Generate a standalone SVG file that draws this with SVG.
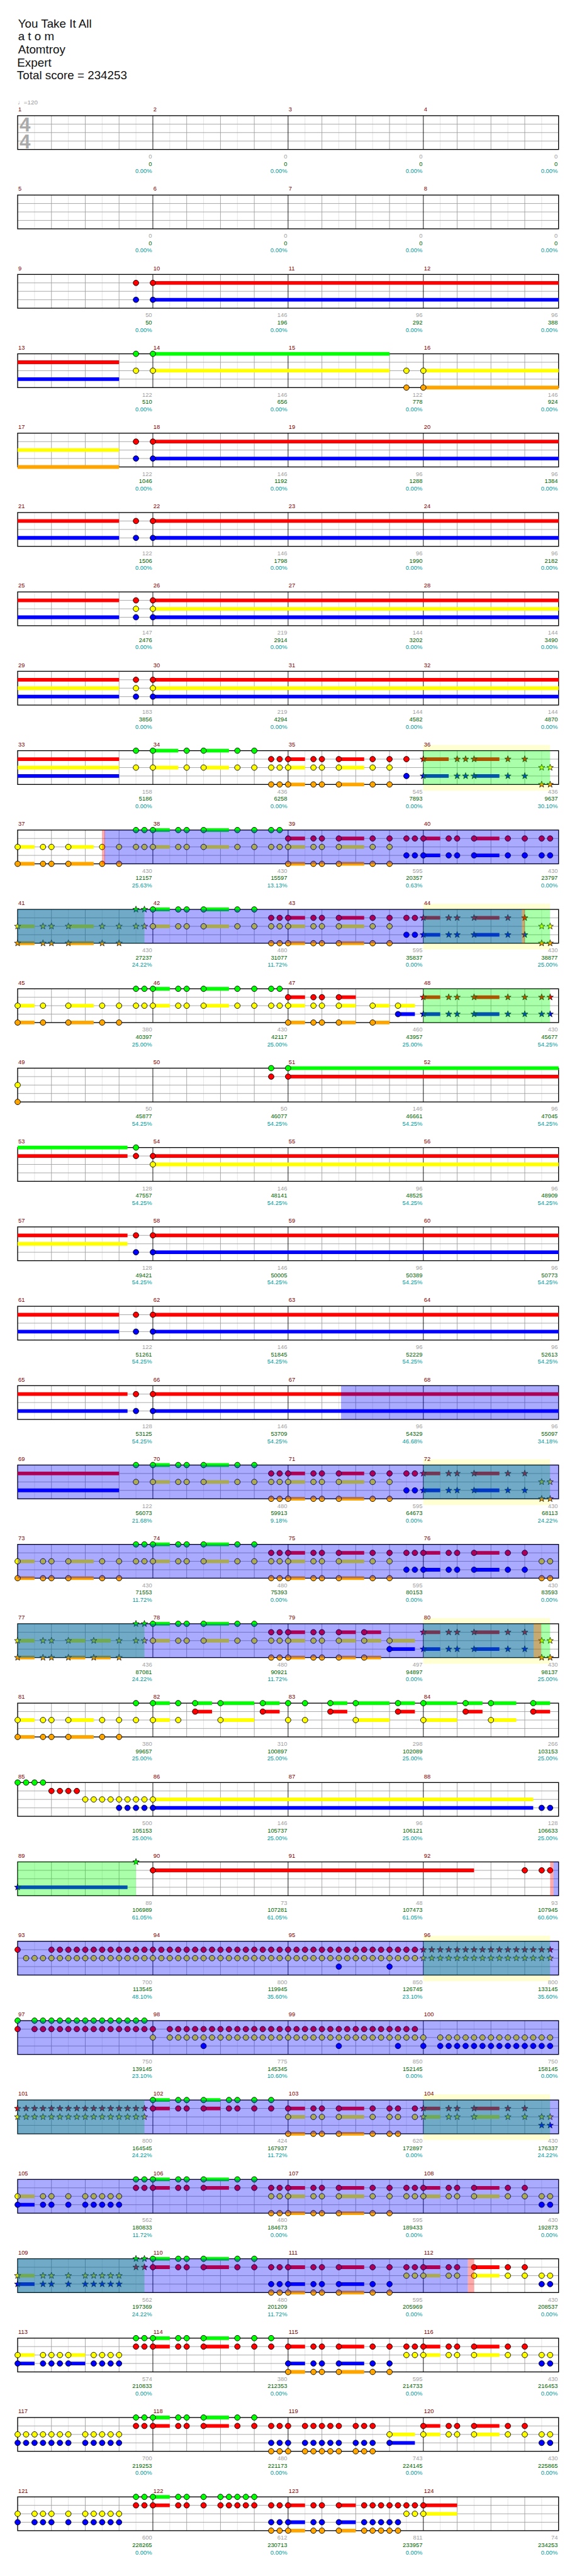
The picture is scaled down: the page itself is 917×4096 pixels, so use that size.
<svg xmlns="http://www.w3.org/2000/svg" width="917" height="4096" viewBox="0 0 917 4096">
<style>
text{font-family:"Liberation Sans","DejaVu Sans",sans-serif}
.ti{font-size:21px;fill:#111}
.tp{font-size:11px;fill:#999}
.ts{font-size:35px;fill:#aaa;text-anchor:middle;font-weight:bold}
.mn{font-size:10.5px;fill:#800000}
.a,.b,.c{font-size:10.5px;text-anchor:end}
.a{fill:#a0a0a0}.b{fill:#006400}.c{fill:#00999a}
path{fill:none}
.uG,.uR,.uY,.uB,.uO{stroke-width:6.5}
.uG{stroke:#0f0}.uR{stroke:#f00}.uY{stroke:#ff0}.uB{stroke:#00f}.uO{stroke:#ffa500}
.nG{marker-start:url(#mCG);marker-mid:url(#mCG);marker-end:url(#mCG)}
.nR{marker-start:url(#mCR);marker-mid:url(#mCR);marker-end:url(#mCR)}
.nY{marker-start:url(#mCY);marker-mid:url(#mCY);marker-end:url(#mCY)}
.nB{marker-start:url(#mCB);marker-mid:url(#mCB);marker-end:url(#mCB)}
.nO{marker-start:url(#mCO);marker-mid:url(#mCO);marker-end:url(#mCO)}
.sG{marker-start:url(#mSG);marker-mid:url(#mSG);marker-end:url(#mSG)}
.sR{marker-start:url(#mSR);marker-mid:url(#mSR);marker-end:url(#mSR)}
.sY{marker-start:url(#mSY);marker-mid:url(#mSY);marker-end:url(#mSY)}
.sB{marker-start:url(#mSB);marker-mid:url(#mSB);marker-end:url(#mSB)}
.sO{marker-start:url(#mSO);marker-mid:url(#mSO);marker-end:url(#mSO)}
.ob{fill:#00f;fill-opacity:.333}
.og{fill:#0f0;fill-opacity:.333}
.orb{fill:#f00;fill-opacity:.333}
.bd{fill:#ffffd2}
</style>
<defs>
<circle id="CG" r="4.9" fill="#0f0" stroke="#000"/>
<circle id="CR" r="4.9" fill="#f00" stroke="#000"/>
<circle id="CY" r="4.9" fill="#ff0" stroke="#000"/>
<circle id="CB" r="4.9" fill="#00f" stroke="#000"/>
<circle id="CO" r="4.9" fill="#ffa500" stroke="#000"/>
<polygon id="st" points="0,-6 1.41,-1.94 5.71,-1.85 2.28,0.74 3.53,4.85 0,2.4 -3.53,4.85 -2.28,0.74 -5.71,-1.85 -1.41,-1.94"/>
<use id="SG" href="#st" fill="#0f0" stroke="#000" stroke-width="0.8"/>
<use id="SR" href="#st" fill="#f00" stroke="#000" stroke-width="0.8"/>
<use id="SY" href="#st" fill="#ff0" stroke="#000" stroke-width="0.8"/>
<use id="SB" href="#st" fill="#00f" stroke="#000" stroke-width="0.8"/>
<use id="SO" href="#st" fill="#ffa500" stroke="#000" stroke-width="0.8"/>
<marker id="mCG" viewBox="-8 -8 16 16" markerWidth="16" markerHeight="16" markerUnits="userSpaceOnUse" overflow="visible"><use href="#CG"/></marker>
<marker id="mCR" viewBox="-8 -8 16 16" markerWidth="16" markerHeight="16" markerUnits="userSpaceOnUse" overflow="visible"><use href="#CR"/></marker>
<marker id="mCY" viewBox="-8 -8 16 16" markerWidth="16" markerHeight="16" markerUnits="userSpaceOnUse" overflow="visible"><use href="#CY"/></marker>
<marker id="mCB" viewBox="-8 -8 16 16" markerWidth="16" markerHeight="16" markerUnits="userSpaceOnUse" overflow="visible"><use href="#CB"/></marker>
<marker id="mCO" viewBox="-8 -8 16 16" markerWidth="16" markerHeight="16" markerUnits="userSpaceOnUse" overflow="visible"><use href="#CO"/></marker>
<marker id="mSG" viewBox="-8 -8 16 16" markerWidth="16" markerHeight="16" markerUnits="userSpaceOnUse" overflow="visible"><use href="#SG"/></marker>
<marker id="mSR" viewBox="-8 -8 16 16" markerWidth="16" markerHeight="16" markerUnits="userSpaceOnUse" overflow="visible"><use href="#SR"/></marker>
<marker id="mSY" viewBox="-8 -8 16 16" markerWidth="16" markerHeight="16" markerUnits="userSpaceOnUse" overflow="visible"><use href="#SY"/></marker>
<marker id="mSB" viewBox="-8 -8 16 16" markerWidth="16" markerHeight="16" markerUnits="userSpaceOnUse" overflow="visible"><use href="#SB"/></marker>
<marker id="mSO" viewBox="-8 -8 16 16" markerWidth="16" markerHeight="16" markerUnits="userSpaceOnUse" overflow="visible"><use href="#SO"/></marker>
<g id="staff">
<rect width="960" height="60" fill="#fff"/>
<path stroke="#e2e2e2" d="M30 0V60M90 0V60M150 0V60M210 0V60M270 0V60M330 0V60M390 0V60M450 0V60M510 0V60M570 0V60M630 0V60M690 0V60M750 0V60M810 0V60M870 0V60M930 0V60"/>
<path stroke="#a0a0a0" d="M60 0V60M120 0V60M180 0V60M300 0V60M360 0V60M420 0V60M540 0V60M600 0V60M660 0V60M780 0V60M840 0V60M900 0V60M0 15H960M0 30H960M0 45H960"/>
<path stroke="#000" d="M240 0V60M480 0V60M720 0V60"/>
<rect width="960" height="60" fill="none" stroke="#000" stroke-width="1.5"/>
</g>
</defs>
<rect width="917" height="4096" fill="#fff"/>
<g transform="scale(0.8955,0.8951)">
<g id="header">
<text class="ti" x="32" y="49.3">You Take It All</text>
<text class="ti" x="32" y="71.7">a t o m</text>
<text class="ti" x="32" y="95">Atomtroy</text>
<text class="ti" x="30.5" y="118.3">Expert</text>
<text class="ti" x="30" y="141">Total score = 234253</text>
</g>

<g id="row-m1" transform="translate(31.3,205.5)">
<use href="#staff"/>
<text class="tp" x="0" y="-20.5">♩=120</text>
<text class="ts" x="13.2" y="27.8">4</text><text class="ts" x="13.2" y="57.8">4</text>
<g class="mn" transform="translate(1,-7.5)"><text>1</text><text x="240">2</text><text x="480">3</text><text x="720">4</text></g>
<g class="a" transform="translate(238.5,76)"><text>0</text><text x="240">0</text><text x="480">0</text><text x="720">0</text></g>
<g class="b" transform="translate(238.5,89)"><text>0</text><text x="240">0</text><text x="480">0</text><text x="720">0</text></g>
<g class="c" transform="translate(238.5,102)"><text>0.00%</text><text x="240">0.00%</text><text x="480">0.00%</text><text x="720">0.00%</text></g>
</g>

<g id="row-m5" transform="translate(31.3,346.5)">
<use href="#staff"/>
<g class="mn" transform="translate(1,-7.5)"><text>5</text><text x="240">6</text><text x="480">7</text><text x="720">8</text></g>
<g class="a" transform="translate(238.5,76)"><text>0</text><text x="240">0</text><text x="480">0</text><text x="720">0</text></g>
<g class="b" transform="translate(238.5,89)"><text>0</text><text x="240">0</text><text x="480">0</text><text x="720">0</text></g>
<g class="c" transform="translate(238.5,102)"><text>0.00%</text><text x="240">0.00%</text><text x="480">0.00%</text><text x="720">0.00%</text></g>
</g>

<g id="row-m9" transform="translate(31.3,487.5)">
<use href="#staff"/>
<path class="uR" d="M240 15H960"/><path class="uB" d="M240 45H960"/>
<path class="nR" d="M210 15H240"/><path class="nB" d="M210 45H240"/>
<g class="mn" transform="translate(1,-7.5)"><text>9</text><text x="240">10</text><text x="480">11</text><text x="720">12</text></g>
<g class="a" transform="translate(238.5,76)"><text>50</text><text x="240">146</text><text x="480">96</text><text x="720">96</text></g>
<g class="b" transform="translate(238.5,89)"><text>50</text><text x="240">196</text><text x="480">292</text><text x="720">388</text></g>
<g class="c" transform="translate(238.5,102)"><text>0.00%</text><text x="240">0.00%</text><text x="480">0.00%</text><text x="720">0.00%</text></g>
</g>

<g id="row-m13" transform="translate(31.3,628.5)">
<use href="#staff"/>
<path class="uR" d="M0 15H180"/><path class="uB" d="M0 45H180"/><path class="uG" d="M240 0H660"/><path class="uY" d="M240 30H660M720 30H960"/><path class="uO" d="M720 60H960"/>
<path class="nG" d="M210 0H240"/><path class="nY" d="M210 30H240H690H720"/><path class="nO" d="M690 60H720"/>
<g class="mn" transform="translate(1,-7.5)"><text>13</text><text x="240">14</text><text x="480">15</text><text x="720">16</text></g>
<g class="a" transform="translate(238.5,76)"><text>122</text><text x="240">146</text><text x="480">122</text><text x="720">146</text></g>
<g class="b" transform="translate(238.5,89)"><text>510</text><text x="240">656</text><text x="480">778</text><text x="720">924</text></g>
<g class="c" transform="translate(238.5,102)"><text>0.00%</text><text x="240">0.00%</text><text x="480">0.00%</text><text x="720">0.00%</text></g>
</g>

<g id="row-m17" transform="translate(31.3,769.5)">
<use href="#staff"/>
<path class="uY" d="M0 30H180"/><path class="uO" d="M0 60H180"/><path class="uR" d="M240 15H960"/><path class="uB" d="M240 45H960"/>
<path class="nR" d="M210 15H240"/><path class="nB" d="M210 45H240"/>
<g class="mn" transform="translate(1,-7.5)"><text>17</text><text x="240">18</text><text x="480">19</text><text x="720">20</text></g>
<g class="a" transform="translate(238.5,76)"><text>122</text><text x="240">146</text><text x="480">96</text><text x="720">96</text></g>
<g class="b" transform="translate(238.5,89)"><text>1046</text><text x="240">1192</text><text x="480">1288</text><text x="720">1384</text></g>
<g class="c" transform="translate(238.5,102)"><text>0.00%</text><text x="240">0.00%</text><text x="480">0.00%</text><text x="720">0.00%</text></g>
</g>

<g id="row-m21" transform="translate(31.3,910.5)">
<use href="#staff"/>
<path class="uR" d="M0 15H180M240 15H960"/><path class="uB" d="M0 45H180M240 45H960"/>
<path class="nR" d="M210 15H240"/><path class="nB" d="M210 45H240"/>
<g class="mn" transform="translate(1,-7.5)"><text>21</text><text x="240">22</text><text x="480">23</text><text x="720">24</text></g>
<g class="a" transform="translate(238.5,76)"><text>122</text><text x="240">146</text><text x="480">96</text><text x="720">96</text></g>
<g class="b" transform="translate(238.5,89)"><text>1506</text><text x="240">1798</text><text x="480">1990</text><text x="720">2182</text></g>
<g class="c" transform="translate(238.5,102)"><text>0.00%</text><text x="240">0.00%</text><text x="480">0.00%</text><text x="720">0.00%</text></g>
</g>

<g id="row-m25" transform="translate(31.3,1051.5)">
<use href="#staff"/>
<path class="uR" d="M0 15H180M240 15H960"/><path class="uY" d="M240 30H960"/><path class="uB" d="M0 45H180M240 45H960"/>
<path class="nR" d="M210 15H240"/><path class="nY" d="M210 30H240"/><path class="nB" d="M210 45H240"/>
<g class="mn" transform="translate(1,-7.5)"><text>25</text><text x="240">26</text><text x="480">27</text><text x="720">28</text></g>
<g class="a" transform="translate(238.5,76)"><text>147</text><text x="240">219</text><text x="480">144</text><text x="720">144</text></g>
<g class="b" transform="translate(238.5,89)"><text>2476</text><text x="240">2914</text><text x="480">3202</text><text x="720">3490</text></g>
<g class="c" transform="translate(238.5,102)"><text>0.00%</text><text x="240">0.00%</text><text x="480">0.00%</text><text x="720">0.00%</text></g>
</g>

<g id="row-m29" transform="translate(31.3,1192.5)">
<use href="#staff"/>
<path class="uR" d="M0 15H180M240 15H960"/><path class="uY" d="M0 30H180M240 30H960"/><path class="uB" d="M0 45H180M240 45H960"/>
<path class="nR" d="M210 15H240"/><path class="nY" d="M210 30H240"/><path class="nB" d="M210 45H240"/>
<g class="mn" transform="translate(1,-7.5)"><text>29</text><text x="240">30</text><text x="480">31</text><text x="720">32</text></g>
<g class="a" transform="translate(238.5,76)"><text>183</text><text x="240">219</text><text x="480">144</text><text x="720">144</text></g>
<g class="b" transform="translate(238.5,89)"><text>3856</text><text x="240">4294</text><text x="480">4582</text><text x="720">4870</text></g>
<g class="c" transform="translate(238.5,102)"><text>0.00%</text><text x="240">0.00%</text><text x="480">0.00%</text><text x="720">0.00%</text></g>
</g>

<g id="row-m33" transform="translate(31.3,1333.5)">
<rect class="bd" x="720" y="-10" width="225" height="81"/>
<use href="#staff"/>
<path class="uR" d="M0 15H180M480 15H510M570 15H615M720 15H765M810 15H855"/>
<path class="uY" d="M0 30H180M240 30H285M330 30H375M480 30H510M570 30H615"/>
<path class="uB" d="M0 45H180M720 45H765M810 45H855"/>
<path class="uG" d="M240 0H285M330 0H375"/>
<path class="uO" d="M480 60H510M570 60H615"/>
<path class="nG" d="M210 0H240H300H330H390H420"/>
<path class="nY" d="M210 30H240H300H330H390H420H450H465H480H525H540H570H630H660"/>
<path class="nR" d="M450 15H465H480H525H540H570H630H660H690"/>
<path class="nO" d="M450 60H465H480H525H540H570H630H660"/>
<use href="#CB" x="690" y="45"/>
<path class="sR" d="M720 15H780H795H810H870H900"/>
<path class="sB" d="M720 45H780H795H810H870H900"/>
<path class="sY" d="M930 30H945"/><path class="sO" d="M930 60H945"/>
<rect class="og" x="720" width="225" height="60"/>
<g class="mn" transform="translate(1,-7.5)"><text>33</text><text x="240">34</text><text x="480">35</text><text x="720">36</text></g>
<g class="a" transform="translate(238.5,76)"><text>158</text><text x="240">436</text><text x="480">545</text><text x="720">436</text></g>
<g class="b" transform="translate(238.5,89)"><text>5186</text><text x="240">6258</text><text x="480">7893</text><text x="720">9637</text></g>
<g class="c" transform="translate(238.5,102)"><text>0.00%</text><text x="240">0.00%</text><text x="480">0.00%</text><text x="720">30.10%</text></g>
</g>

<g id="row-m37" transform="translate(31.3,1474.5)">
<use href="#staff"/>
<path class="uY" d="M0 30H30M90 30H135M240 30H270M330 30H375M480 30H510M570 30H615"/>
<path class="uO" d="M0 60H30M90 60H135M480 60H510M570 60H615"/>
<path class="uG" d="M240 0H270M330 0H375"/>
<path class="uR" d="M480 15H510M570 15H615M720 15H750M810 15H855"/>
<path class="uB" d="M720 45H750M810 45H855"/>
<path class="nY" d="M0 30H45H60H90H150H180H210H225H240H285H300H330H390H420H450H465H480H525H540H570H630H660"/>
<path class="nO" d="M0 60H45H60H90H150H180H480H525H540H570H630H660"/>
<path class="nG" d="M210 0H225H240H285H300H330H390H420H450H465"/>
<path class="nR" d="M480 15H525H540H570H630H660H690H705H720H765H780H810H870H900H930H945"/>
<path class="nB" d="M690 45H705H720H765H780H810H870H900H930H945"/>
<rect class="ob" x="154" width="806" height="60"/>
<rect class="orb" x="150" width="5" height="60"/>
<g class="mn" transform="translate(1,-7.5)"><text>37</text><text x="240">38</text><text x="480">39</text><text x="720">40</text></g>
<g class="a" transform="translate(238.5,76)"><text>430</text><text x="240">430</text><text x="480">595</text><text x="720">430</text></g>
<g class="b" transform="translate(238.5,89)"><text>12157</text><text x="240">15597</text><text x="480">20357</text><text x="720">23797</text></g>
<g class="c" transform="translate(238.5,102)"><text>25.63%</text><text x="240">13.13%</text><text x="480">0.63%</text><text x="720">0.00%</text></g>
</g>

<g id="row-m41" transform="translate(31.3,1615.5)">
<rect class="bd" x="720" y="-10" width="225" height="81"/>
<use href="#staff"/>
<path class="uY" d="M0 30H30M90 30H135M240 30H270M330 30H375M480 30H510M570 30H615"/>
<path class="uO" d="M0 60H30M90 60H135M480 60H510M570 60H615"/>
<path class="uG" d="M240 0H270M330 0H375"/>
<path class="uR" d="M480 15H510M570 15H615M720 15H750M810 15H855"/>
<path class="uB" d="M720 45H750M810 45H855"/>
<path class="nY" d="M240 30H285H300H330H390H420H450H465H480H525H540H570H630H660"/>
<path class="nO" d="M450 60H465H480H525H540H570H630H660"/>
<path class="nG" d="M240 0H285H300H330H390H420"/>
<path class="nR" d="M450 15H465H480H525H540H570H630H660H690H705"/>
<path class="nB" d="M690 45H705"/>
<path class="sY" d="M0 30H45H60H90H150H180H210H225M930 30H945"/>
<path class="sO" d="M0 60H45H60H90H150H180M930 60H945"/>
<path class="sG" d="M210 0H225"/>
<path class="sR" d="M720 15H765H780H810H870H900"/>
<path class="sB" d="M720 45H765H780H810H870H900"/>
<rect class="og" x="0" width="225" height="60"/>
<rect class="og" x="720" width="225" height="60"/>
<rect class="ob" x="0" width="895" height="60"/>
<rect class="orb" x="895" width="5" height="60"/>
<g class="mn" transform="translate(1,-7.5)"><text>41</text><text x="240">42</text><text x="480">43</text><text x="720">44</text></g>
<g class="a" transform="translate(238.5,76)"><text>430</text><text x="240">480</text><text x="480">595</text><text x="720">430</text></g>
<g class="b" transform="translate(238.5,89)"><text>27237</text><text x="240">31077</text><text x="480">35837</text><text x="720">38877</text></g>
<g class="c" transform="translate(238.5,102)"><text>24.22%</text><text x="240">11.72%</text><text x="480">0.00%</text><text x="720">25.00%</text></g>
</g>

<g id="row-m45" transform="translate(31.3,1756.5)">
<use href="#staff"/>
<path class="uY" d="M0 30H30M90 30H135M240 30H270M330 30H375M480 30H510M570 30H600M630 30H660M675 30H705"/>
<path class="uO" d="M0 60H30M90 60H135M480 60H510M570 60H600M630 60H660"/>
<path class="uG" d="M240 0H270M330 0H375"/>
<path class="uR" d="M480 15H510M570 15H600M720 15H750M810 15H855"/>
<path class="uB" d="M675 45H705M720 45H750M810 45H855"/>
<path class="nY" d="M0 30H45H90H150H180H210H225H240H285H300H330H390H420H450H465H480H525H540H570H630H675"/>
<path class="nO" d="M0 60H45H90H150H180H480H525H540H570H630"/>
<path class="nG" d="M210 0H225H240H285H300H330H390H420H450H465"/>
<path class="nR" d="M480 15H525H540H570"/>
<use href="#CB" x="675" y="45"/>
<path class="sR" d="M720 15H765H780H810H870H900H930H945"/>
<path class="sB" d="M720 45H765H780H810H870H900H930H945"/>
<rect class="og" x="720" width="225" height="60"/>
<g class="mn" transform="translate(1,-7.5)"><text>45</text><text x="240">46</text><text x="480">47</text><text x="720">48</text></g>
<g class="a" transform="translate(238.5,76)"><text>380</text><text x="240">430</text><text x="480">460</text><text x="720">430</text></g>
<g class="b" transform="translate(238.5,89)"><text>40397</text><text x="240">42117</text><text x="480">43957</text><text x="720">45677</text></g>
<g class="c" transform="translate(238.5,102)"><text>25.00%</text><text x="240">25.00%</text><text x="480">25.00%</text><text x="720">54.25%</text></g>
</g>

<g id="row-m49" transform="translate(31.3,1897.5)">
<use href="#staff"/>
<path class="uG" d="M480 0H960"/><path class="uR" d="M480 15H960"/>
<path class="nG" d="M450 0H480"/><path class="nR" d="M450 15H480"/>
<use href="#CY" x="0" y="30"/><use href="#CO" x="0" y="60"/>
<g class="mn" transform="translate(1,-7.5)"><text>49</text><text x="240">50</text><text x="480">51</text><text x="720">52</text></g>
<g class="a" transform="translate(238.5,76)"><text>50</text><text x="240">50</text><text x="480">146</text><text x="720">96</text></g>
<g class="b" transform="translate(238.5,89)"><text>45877</text><text x="240">46077</text><text x="480">46661</text><text x="720">47045</text></g>
<g class="c" transform="translate(238.5,102)"><text>54.25%</text><text x="240">54.25%</text><text x="480">54.25%</text><text x="720">54.25%</text></g>
</g>

<g id="row-m53" transform="translate(31.3,2038.5)">
<use href="#staff"/>
<path class="uG" d="M0 0H195"/><path class="uR" d="M0 15H195M240 15H960"/><path class="uY" d="M240 30H960"/>
<use href="#CG" x="210" y="0"/><path class="nR" d="M210 15H240"/><use href="#CY" x="240" y="30"/>
<g class="mn" transform="translate(1,-7.5)"><text>53</text><text x="240">54</text><text x="480">55</text><text x="720">56</text></g>
<g class="a" transform="translate(238.5,76)"><text>128</text><text x="240">146</text><text x="480">96</text><text x="720">96</text></g>
<g class="b" transform="translate(238.5,89)"><text>47557</text><text x="240">48141</text><text x="480">48525</text><text x="720">48909</text></g>
<g class="c" transform="translate(238.5,102)"><text>54.25%</text><text x="240">54.25%</text><text x="480">54.25%</text><text x="720">54.25%</text></g>
</g>

<g id="row-m57" transform="translate(31.3,2179.5)">
<use href="#staff"/>
<path class="uR" d="M0 15H195M240 15H960"/><path class="uY" d="M0 30H195"/><path class="uB" d="M240 45H960"/>
<path class="nR" d="M210 15H240"/><path class="nB" d="M210 45H240"/>
<g class="mn" transform="translate(1,-7.5)"><text>57</text><text x="240">58</text><text x="480">59</text><text x="720">60</text></g>
<g class="a" transform="translate(238.5,76)"><text>128</text><text x="240">146</text><text x="480">96</text><text x="720">96</text></g>
<g class="b" transform="translate(238.5,89)"><text>49421</text><text x="240">50005</text><text x="480">50389</text><text x="720">50773</text></g>
<g class="c" transform="translate(238.5,102)"><text>54.25%</text><text x="240">54.25%</text><text x="480">54.25%</text><text x="720">54.25%</text></g>
</g>

<g id="row-m61" transform="translate(31.3,2320.5)">
<use href="#staff"/>
<path class="uR" d="M0 15H180M240 15H960"/><path class="uB" d="M0 45H180M240 45H960"/>
<path class="nR" d="M210 15H240"/><path class="nB" d="M210 45H240"/>
<g class="mn" transform="translate(1,-7.5)"><text>61</text><text x="240">62</text><text x="480">63</text><text x="720">64</text></g>
<g class="a" transform="translate(238.5,76)"><text>122</text><text x="240">146</text><text x="480">96</text><text x="720">96</text></g>
<g class="b" transform="translate(238.5,89)"><text>51261</text><text x="240">51845</text><text x="480">52229</text><text x="720">52613</text></g>
<g class="c" transform="translate(238.5,102)"><text>54.25%</text><text x="240">54.25%</text><text x="480">54.25%</text><text x="720">54.25%</text></g>
</g>

<g id="row-m65" transform="translate(31.3,2461.5)">
<use href="#staff"/>
<path class="uR" d="M0 15H195M240 15H960"/><path class="uB" d="M0 45H195M240 45H960"/>
<path class="nR" d="M210 15H240"/><path class="nB" d="M210 45H240"/>
<rect class="ob" x="574" width="386" height="60"/>
<g class="mn" transform="translate(1,-7.5)"><text>65</text><text x="240">66</text><text x="480">67</text><text x="720">68</text></g>
<g class="a" transform="translate(238.5,76)"><text>128</text><text x="240">146</text><text x="480">96</text><text x="720">96</text></g>
<g class="b" transform="translate(238.5,89)"><text>53125</text><text x="240">53709</text><text x="480">54329</text><text x="720">55097</text></g>
<g class="c" transform="translate(238.5,102)"><text>54.25%</text><text x="240">54.25%</text><text x="480">46.68%</text><text x="720">34.18%</text></g>
</g>

<g id="row-m69" transform="translate(31.3,2602.5)">
<rect class="bd" x="720" y="-10" width="225" height="81"/>
<use href="#staff"/>
<path class="uR" d="M0 15H180M480 15H510M570 15H615M720 15H750M810 15H855"/>
<path class="uB" d="M0 45H180M720 45H750M810 45H855"/>
<path class="uG" d="M240 0H270M330 0H375"/>
<path class="uY" d="M240 30H270M330 30H375M480 30H510M570 30H615"/>
<path class="uO" d="M480 60H510M570 60H615"/>
<path class="nG" d="M210 0H240H285H300H330H390H420"/>
<path class="nY" d="M210 30H240H285H300H330H390H420H450H465H480H525H540H570H630H660"/>
<path class="nR" d="M450 15H465H480H525H540H570H630H660H690H705"/>
<path class="nB" d="M690 45H705"/>
<path class="nO" d="M450 60H465H480H525H540H570H630H660"/>
<path class="sR" d="M720 15H765H780H810H870H900"/>
<path class="sB" d="M720 45H765H780H810H870H900"/>
<path class="sY" d="M930 30H945"/><path class="sO" d="M930 60H945"/>
<rect class="og" x="720" width="225" height="60"/>
<rect class="ob" x="0" width="960" height="60"/>
<g class="mn" transform="translate(1,-7.5)"><text>69</text><text x="240">70</text><text x="480">71</text><text x="720">72</text></g>
<g class="a" transform="translate(238.5,76)"><text>122</text><text x="240">480</text><text x="480">595</text><text x="720">430</text></g>
<g class="b" transform="translate(238.5,89)"><text>56073</text><text x="240">59913</text><text x="480">64673</text><text x="720">68113</text></g>
<g class="c" transform="translate(238.5,102)"><text>21.68%</text><text x="240">9.18%</text><text x="480">0.00%</text><text x="720">24.22%</text></g>
</g>

<g id="row-m73" transform="translate(31.3,2743.5)">
<use href="#staff"/>
<path class="uY" d="M0 30H30M90 30H135M240 30H270M330 30H375M480 30H510M570 30H615"/>
<path class="uO" d="M0 60H30M90 60H135M480 60H510M570 60H615"/>
<path class="uG" d="M240 0H270M330 0H375"/>
<path class="uR" d="M480 15H510M570 15H615M720 15H750M810 15H855"/>
<path class="uB" d="M720 45H750M810 45H855"/>
<path class="nY" d="M0 30H45H60H90H150H180H210H225H240H285H300H330H390H420H450H465H480H525H540H570H630H660H930H945"/>
<path class="nO" d="M0 60H45H60H90H150H180H450H465H480H525H540H570H630H660H930H945"/>
<path class="nG" d="M210 0H225H240H285H300H330H390H420"/>
<path class="nR" d="M450 15H465H480H525H540H570H630H660H690H705H720H765H780H810H870H900"/>
<path class="nB" d="M690 45H705H720H765H780H810H870H900"/>
<rect class="ob" x="0" width="960" height="60"/>
<g class="mn" transform="translate(1,-7.5)"><text>73</text><text x="240">74</text><text x="480">75</text><text x="720">76</text></g>
<g class="a" transform="translate(238.5,76)"><text>430</text><text x="240">480</text><text x="480">595</text><text x="720">430</text></g>
<g class="b" transform="translate(238.5,89)"><text>71553</text><text x="240">75393</text><text x="480">80153</text><text x="720">83593</text></g>
<g class="c" transform="translate(238.5,102)"><text>11.72%</text><text x="240">0.00%</text><text x="480">0.00%</text><text x="720">0.00%</text></g>
</g>

<g id="row-m77" transform="translate(31.3,2884.5)">
<rect class="bd" x="720" y="-10" width="225" height="81"/>
<use href="#staff"/>
<path class="uY" d="M0 30H30M90 30H120M135 30H165M240 30H270M330 30H375M480 30H510M570 30H600M615 30H645M660 30H705"/>
<path class="uO" d="M0 60H30M90 60H120M135 60H165M480 60H510M570 60H600M615 60H645"/>
<path class="uG" d="M240 0H270M330 0H375"/>
<path class="uR" d="M480 15H510M570 15H600M615 15H645M720 15H750M810 15H855"/>
<path class="uB" d="M660 45H705M720 45H750M810 45H855"/>
<path class="nY" d="M240 30H285H300H330H390H420H450H465H480H525H540H570H615H660"/>
<path class="nO" d="M450 60H465H480H525H540H570H615"/>
<path class="nG" d="M240 0H285H300H330H390H420"/>
<path class="nR" d="M450 15H465H480H525H540H570H615"/>
<use href="#CB" x="660" y="45"/>
<path class="sY" d="M0 30H45H60H90H135H180H210H225M930 30H945"/>
<path class="sO" d="M0 60H45H60H90H135H180M930 60H945"/>
<path class="sG" d="M210 0H225"/>
<path class="sR" d="M720 15H765H780H810H870H900"/>
<path class="sB" d="M720 45H765H780H810H870H900"/>
<rect class="og" x="0" width="225" height="60"/>
<rect class="og" x="720" width="225" height="60"/>
<rect class="ob" x="0" width="916" height="60"/>
<rect class="orb" x="916" width="13" height="60"/>
<g class="mn" transform="translate(1,-7.5)"><text>77</text><text x="240">78</text><text x="480">79</text><text x="720">80</text></g>
<g class="a" transform="translate(238.5,76)"><text>436</text><text x="240">480</text><text x="480">497</text><text x="720">430</text></g>
<g class="b" transform="translate(238.5,89)"><text>87081</text><text x="240">90921</text><text x="480">94897</text><text x="720">98137</text></g>
<g class="c" transform="translate(238.5,102)"><text>24.22%</text><text x="240">11.72%</text><text x="480">0.00%</text><text x="720">25.00%</text></g>
</g>

<g id="row-m81" transform="translate(31.3,3025.5)">
<use href="#staff"/>
<path class="uY" d="M0 30H30M90 30H135M240 30H270M360 30H420M600 30H660M720 30H780M840 30H885"/>
<path class="uO" d="M0 60H30M90 60H135"/>
<path class="uG" d="M240 0H270M315 0H345M360 0H420M435 0H465M555 0H585M600 0H660M675 0H705M720 0H780M795 0H825M840 0H885M915 0H945"/>
<path class="uR" d="M315 15H345M435 15H465M555 15H585M675 15H705M795 15H825M915 15H945"/>
<path class="nY" d="M0 30H45H60H90H150H180H210H240H285H360H480H510H600H720H840"/>
<path class="nO" d="M0 60H45H60H90H150H180"/>
<path class="nG" d="M210 0H240H285H315H360H435H480H510H555H600H675H720H795H840H915"/>
<path class="nR" d="M315 15H435H555H675H795H915"/>
<g class="mn" transform="translate(1,-7.5)"><text>81</text><text x="240">82</text><text x="480">83</text><text x="720">84</text></g>
<g class="a" transform="translate(238.5,76)"><text>380</text><text x="240">310</text><text x="480">298</text><text x="720">266</text></g>
<g class="b" transform="translate(238.5,89)"><text>99657</text><text x="240">100897</text><text x="480">102089</text><text x="720">103153</text></g>
<g class="c" transform="translate(238.5,102)"><text>25.00%</text><text x="240">25.00%</text><text x="480">25.00%</text><text x="720">25.00%</text></g>
</g>

<g id="row-m85" transform="translate(31.3,3166.5)">
<use href="#staff"/>
<path class="uY" d="M240 30H915"/><path class="uB" d="M240 45H915"/>
<path class="nG" d="M0 0H15H30H45"/>
<path class="nR" d="M60 15H75H90H105"/>
<path class="nY" d="M120 30H135H150H165H180H195H210H225H240"/>
<path class="nB" d="M180 45H195H210H225H240H930H945"/>
<g class="mn" transform="translate(1,-7.5)"><text>85</text><text x="240">86</text><text x="480">87</text><text x="720">88</text></g>
<g class="a" transform="translate(238.5,76)"><text>500</text><text x="240">146</text><text x="480">96</text><text x="720">128</text></g>
<g class="b" transform="translate(238.5,89)"><text>105153</text><text x="240">105737</text><text x="480">106121</text><text x="720">106633</text></g>
<g class="c" transform="translate(238.5,102)"><text>25.00%</text><text x="240">25.00%</text><text x="480">25.00%</text><text x="720">25.00%</text></g>
</g>

<g id="row-m89" transform="translate(31.3,3307.5)">
<use href="#staff"/>
<path class="uB" d="M0 45H195"/><path class="uR" d="M240 15H810"/>
<use href="#SB" x="0" y="45"/><use href="#SG" x="210" y="0"/>
<path class="nR" d="M240 15H900H930H945"/>
<rect class="og" x="0" width="210" height="60"/>
<rect class="orb" x="945" width="6" height="60"/>
<rect class="ob" x="951" width="9" height="60"/>
<g class="mn" transform="translate(1,-7.5)"><text>89</text><text x="240">90</text><text x="480">91</text><text x="720">92</text></g>
<g class="a" transform="translate(238.5,76)"><text>89</text><text x="240">73</text><text x="480">48</text><text x="720">93</text></g>
<g class="b" transform="translate(238.5,89)"><text>106989</text><text x="240">107281</text><text x="480">107473</text><text x="720">107945</text></g>
<g class="c" transform="translate(238.5,102)"><text>61.05%</text><text x="240">61.05%</text><text x="480">61.05%</text><text x="720">60.60%</text></g>
</g>

<g id="row-m93" transform="translate(31.3,3448.5)">
<rect class="bd" x="720" y="-10" width="225" height="81"/>
<use href="#staff"/>
<path class="nR" d="M0 15H60H75H90H105H120H135H150H165H180H195H210H225H240H255H270H285H300H315H330H345H360H375H390H405H420H435H450H465H480H495H510H525H540H555H570H585H600H615H630H645H660H675H690H705"/>
<path class="nY" d="M15 30H30H45H60H75H90H105H120H135H150H165H180H195H210H225H240H255H270H285H300H315H330H345H360H375H390H405H420H435H450H465H480H495H510H525H540H555H570H585H600H615H630H645H660H675H690H705"/>
<path class="nB" d="M570 45H660"/>
<path class="sR" d="M720 15H735H750H765H780H795H810H825H840H855H870H885H900H915H930H945"/>
<path class="sY" d="M720 30H735H750H765H780H795H810H825H840H855H870H885H900H915H930H945"/>
<rect class="og" x="720" width="225" height="60"/>
<rect class="ob" x="0" width="960" height="60"/>
<g class="mn" transform="translate(1,-7.5)"><text>93</text><text x="240">94</text><text x="480">95</text><text x="720">96</text></g>
<g class="a" transform="translate(238.5,76)"><text>700</text><text x="240">800</text><text x="480">850</text><text x="720">800</text></g>
<g class="b" transform="translate(238.5,89)"><text>113545</text><text x="240">119945</text><text x="480">126745</text><text x="720">133145</text></g>
<g class="c" transform="translate(238.5,102)"><text>48.10%</text><text x="240">35.60%</text><text x="480">23.10%</text><text x="720">35.60%</text></g>
</g>

<g id="row-m97" transform="translate(31.3,3589.5)">
<use href="#staff"/>
<path class="nG" d="M0 0H30H45H60H75H90H105H120H135H150H165H180H195H210H225"/>
<path class="nR" d="M0 15H30H45H60H75H90H105H120H135H150H165H180H195H210H225H240H270H285H300H315H330H345H360H375H390H405H420H435H450H465H480H495H510H525H540H555H570H585H600H615H630H645H660H675H690H705"/>
<path class="nY" d="M240 30H270H285H300H315H330H345H360H375H390H405H420H435H450H465H480H495H510H525H540H555H570H585H600H615H630H645H660H675H690H705H720H750H765H780H795H810H825H840H855H870H885H900H915H930H945"/>
<path class="nB" d="M330 45H570H675H720H750H765H780H795H810H825H840H855H870H885H900H915H930H945"/>
<rect class="ob" x="0" width="960" height="60"/>
<g class="mn" transform="translate(1,-7.5)"><text>97</text><text x="240">98</text><text x="480">99</text><text x="720">100</text></g>
<g class="a" transform="translate(238.5,76)"><text>750</text><text x="240">775</text><text x="480">850</text><text x="720">750</text></g>
<g class="b" transform="translate(238.5,89)"><text>139145</text><text x="240">145345</text><text x="480">152145</text><text x="720">158145</text></g>
<g class="c" transform="translate(238.5,102)"><text>23.10%</text><text x="240">10.60%</text><text x="480">0.00%</text><text x="720">0.00%</text></g>
</g>

<g id="row-m101" transform="translate(31.3,3730.5)">
<rect class="bd" x="720" y="-10" width="225" height="81"/>
<use href="#staff"/>
<path class="uG" d="M240 0H270M330 0H360"/>
<path class="uR" d="M240 15H270M330 15H360M480 15H510M570 15H615M720 15H750M810 15H855"/>
<path class="uY" d="M480 30H510M570 30H615M720 30H750M810 30H855"/>
<path class="uO" d="M480 60H510M570 60H615"/>
<path class="nG" d="M240 0H285H300H330H375H390H420H450"/>
<path class="nR" d="M240 15H285H300H330H375H390H420H450H480H525H540H570H630H660H675H705"/>
<path class="nY" d="M480 30H525H540H570H630H660H675H705"/>
<path class="nO" d="M480 60H525H540H570H630H660H675"/>
<path class="sR" d="M0 15H15H30H45H60H75H90H105H120H135H150H165H180H195H210H225M720 15H765H780H810H870H900"/>
<path class="sY" d="M0 30H15H30H45H60H75H90H105H120H135H150H165H180H195H210H225M720 30H765H780H810H870H900H930H945"/>
<path class="sB" d="M930 45H945"/>
<rect class="og" x="0" width="225" height="60"/>
<rect class="og" x="720" width="225" height="60"/>
<rect class="ob" x="0" width="960" height="60"/>
<g class="mn" transform="translate(1,-7.5)"><text>101</text><text x="240">102</text><text x="480">103</text><text x="720">104</text></g>
<g class="a" transform="translate(238.5,76)"><text>800</text><text x="240">424</text><text x="480">620</text><text x="720">430</text></g>
<g class="b" transform="translate(238.5,89)"><text>164545</text><text x="240">167937</text><text x="480">172897</text><text x="720">176337</text></g>
<g class="c" transform="translate(238.5,102)"><text>24.22%</text><text x="240">11.72%</text><text x="480">0.00%</text><text x="720">24.22%</text></g>
</g>

<g id="row-m105" transform="translate(31.3,3871.5)">
<use href="#staff"/>
<path class="uY" d="M0 30H30M480 30H510M570 30H615M720 30H750M810 30H855"/>
<path class="uB" d="M0 45H30"/>
<path class="uG" d="M240 0H270M330 0H375"/>
<path class="uR" d="M240 15H270M330 15H375M480 15H510M570 15H615M720 15H750M810 15H855"/>
<path class="uO" d="M480 60H510M570 60H615"/>
<path class="nY" d="M0 30H45H60H90H120H135H150H165H180H450H465H480H525H540H570H630H660H690H705H720H765H780H810H870H900H930H945"/>
<path class="nB" d="M0 45H45H60H90H120H135H150H165H180H930H945"/>
<path class="nG" d="M210 0H225H240H285H300H330H390H420"/>
<path class="nR" d="M210 15H225H240H285H300H330H390H420H450H465H480H525H540H570H630H660H690H705H720H765H780H810H870H900"/>
<path class="nO" d="M450 60H465H480H525H540H570H630H660"/>
<rect class="ob" x="0" width="960" height="60"/>
<g class="mn" transform="translate(1,-7.5)"><text>105</text><text x="240">106</text><text x="480">107</text><text x="720">108</text></g>
<g class="a" transform="translate(238.5,76)"><text>562</text><text x="240">480</text><text x="480">595</text><text x="720">430</text></g>
<g class="b" transform="translate(238.5,89)"><text>180833</text><text x="240">184673</text><text x="480">189433</text><text x="720">192873</text></g>
<g class="c" transform="translate(238.5,102)"><text>11.72%</text><text x="240">0.00%</text><text x="480">0.00%</text><text x="720">0.00%</text></g>
</g>

<g id="row-m109" transform="translate(31.3,4012.5)">
<use href="#staff"/>
<path class="uY" d="M0 30H30M720 30H750M810 30H855"/>
<path class="uB" d="M0 45H30M480 45H510M570 45H615"/>
<path class="uG" d="M240 0H270M330 0H375"/>
<path class="uR" d="M240 15H270M330 15H375M480 15H510M570 15H615M720 15H750M810 15H855"/>
<path class="uO" d="M480 60H510M570 60H615"/>
<path class="nG" d="M240 0H285H300H330H390H420"/>
<path class="nR" d="M240 15H285H300H330H390H420H450H465H480H525H540H570H630H660H690H705H720H765H780H810H870H900"/>
<path class="nY" d="M690 30H705H720H765H780H810H870H900H930H945"/>
<path class="nB" d="M450 45H465H480H525H540H570H630H660H930H945"/>
<path class="nO" d="M450 60H465H480H525H540H570H630H660"/>
<path class="sY" d="M0 30H45H60H90H120H135H150H165H180"/>
<path class="sB" d="M0 45H45H60H90H120H135H150H165H180"/>
<path class="sG" d="M210 0H225"/><path class="sR" d="M210 15H225"/>
<rect class="og" x="0" width="225" height="60"/>
<rect class="ob" x="0" width="799" height="60"/>
<rect class="orb" x="799" width="11" height="60"/>
<g class="mn" transform="translate(1,-7.5)"><text>109</text><text x="240">110</text><text x="480">111</text><text x="720">112</text></g>
<g class="a" transform="translate(238.5,76)"><text>562</text><text x="240">480</text><text x="480">595</text><text x="720">430</text></g>
<g class="b" transform="translate(238.5,89)"><text>197369</text><text x="240">201209</text><text x="480">205969</text><text x="720">208537</text></g>
<g class="c" transform="translate(238.5,102)"><text>24.22%</text><text x="240">11.72%</text><text x="480">0.00%</text><text x="720">0.00%</text></g>
</g>

<g id="row-m113" transform="translate(31.3,4153.5)">
<use href="#staff"/>
<path class="uY" d="M0 30H30M90 30H120M720 30H750M810 30H855"/>
<path class="uB" d="M0 45H30M90 45H120M480 45H510M570 45H615"/>
<path class="uG" d="M240 0H270M330 0H375"/>
<path class="uR" d="M240 15H270M330 15H375M480 15H510M570 15H615M720 15H750M810 15H855"/>
<path class="uO" d="M480 60H510M570 60H615"/>
<path class="nY" d="M0 30H45H60H75H90H135H150H165H180H690H705H720H765H780H810H870H900H930H945"/>
<path class="nB" d="M0 45H45H60H75H90H135H150H165H180H480H525H540H570H630H660H930H945"/>
<path class="nG" d="M210 0H225H240H285H300H330H390H420H450"/>
<path class="nR" d="M210 15H225H240H285H300H330H390H420H450H480H525H540H570H630H660H690H705H720H765H780H810H870H900"/>
<path class="nO" d="M480 60H525H540H570H630H660"/>
<g class="mn" transform="translate(1,-7.5)"><text>113</text><text x="240">114</text><text x="480">115</text><text x="720">116</text></g>
<g class="a" transform="translate(238.5,76)"><text>574</text><text x="240">380</text><text x="480">595</text><text x="720">430</text></g>
<g class="b" transform="translate(238.5,89)"><text>210833</text><text x="240">212353</text><text x="480">214733</text><text x="720">216453</text></g>
<g class="c" transform="translate(238.5,102)"><text>0.00%</text><text x="240">0.00%</text><text x="480">0.00%</text><text x="720">0.00%</text></g>
</g>

<g id="row-m117" transform="translate(31.3,4294.5)">
<use href="#staff"/>
<path class="uY" d="M660 30H705M720 30H750M810 30H855"/>
<path class="uB" d="M660 45H705"/>
<path class="uG" d="M240 0H270M330 0H375"/>
<path class="uR" d="M240 15H270M330 15H375M720 15H750M810 15H855"/>
<path class="nY" d="M0 30H15H30H45H60H75H90H120H135H150H165H180H660H720H765H780H810H870H900H930H945"/>
<path class="nB" d="M0 45H15H30H45H60H75H90H120H135H150H165H180H450H465H480H510H525H540H555H570H600H615H630H660H930H945"/>
<path class="nG" d="M210 0H225H240H285H300H330H390H420"/>
<path class="nR" d="M210 15H225H240H285H300H330H390H420H450H465H480H510H525H540H555H570H600H615H630H720H765H780H810H870H900"/>
<path class="nO" d="M450 60H465H480H510H525H540H555H570H600H615H630"/>
<g class="mn" transform="translate(1,-7.5)"><text>117</text><text x="240">118</text><text x="480">119</text><text x="720">120</text></g>
<g class="a" transform="translate(238.5,76)"><text>700</text><text x="240">480</text><text x="480">743</text><text x="720">430</text></g>
<g class="b" transform="translate(238.5,89)"><text>219253</text><text x="240">221173</text><text x="480">224145</text><text x="720">225865</text></g>
<g class="c" transform="translate(238.5,102)"><text>0.00%</text><text x="240">0.00%</text><text x="480">0.00%</text><text x="720">0.00%</text></g>
</g>

<g id="row-m121" transform="translate(31.3,4435.5)">
<use href="#staff"/>
<path class="uY" d="M720 30H780"/>
<path class="uB" d="M480 45H510M570 45H600"/>
<path class="uG" d="M240 0H270"/>
<path class="uR" d="M240 15H270M480 15H510M570 15H600M720 15H780"/>
<path class="uO" d="M480 60H510M570 60H600"/>
<path class="nY" d="M0 30H30H45H60H90H120H135H150H165H180H690H705H720"/>
<path class="nB" d="M0 45H30H45H60H90H120H135H150H165H180H450H465H480H525H540H570H615H630H645H660H675"/>
<path class="nG" d="M210 0H225H240H285H300H330H360H375H390H405H420"/>
<path class="nR" d="M210 15H225H240H285H300H330H360H375H390H405H420H450H465H480H525H540H570H615H630H645H660H675H690H705H720"/>
<path class="nO" d="M450 60H465H480H525H540H570H615H630H645H660H675"/>
<g class="mn" transform="translate(1,-7.5)"><text>121</text><text x="240">122</text><text x="480">123</text><text x="720">124</text></g>
<g class="a" transform="translate(238.5,76)"><text>600</text><text x="240">612</text><text x="480">811</text><text x="720">74</text></g>
<g class="b" transform="translate(238.5,89)"><text>228265</text><text x="240">230713</text><text x="480">233957</text><text x="720">234253</text></g>
<g class="c" transform="translate(238.5,102)"><text>0.00%</text><text x="240">0.00%</text><text x="480">0.00%</text><text x="720">0.00%</text></g>
</g>
</g>
</svg>
